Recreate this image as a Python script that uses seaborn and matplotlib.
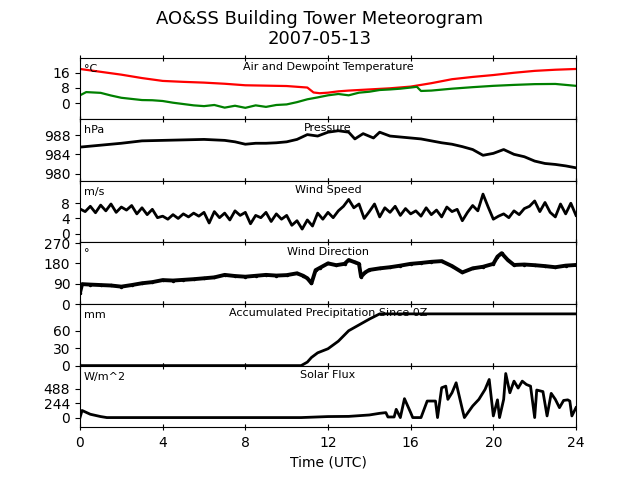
import matplotlib
matplotlib.use("Agg")
import matplotlib.pyplot as plt
import seaborn as sns
import numpy as np

# ---------------- data (hours UTC) ----------------
temp_t = [0, 1, 2, 3, 4, 5, 6, 7, 8, 9, 10, 10.5, 11, 11.3, 11.6, 12, 12.5, 13, 14, 15, 16,
          17, 18, 19, 20, 21, 22, 23, 24]
temp_v = [18, 16.5, 15, 13.2, 11.7, 11.2, 10.8, 10.2, 9.4, 9.2, 9.0, 8.6, 8.2, 5.6, 5.2, 5.5,
          6.2, 6.6, 7.2, 7.8, 8.7, 10.5, 12.6, 13.8, 14.8, 16, 17, 17.6, 18]

dew_t = [0, 0.3, 1, 1.5, 2, 2.5, 3, 3.5, 4, 4.5, 5, 5.5, 6, 6.5, 7, 7.5, 8, 8.5, 9, 9.5, 10,
         10.5, 11, 11.5, 12, 12.5, 13, 13.5, 14, 14.5, 15, 15.5, 16, 16.3, 16.5, 17, 18, 18.5,
         19, 20, 21, 22, 23, 24]
dew_v = [4.1, 5.8, 5.4, 4.0, 2.8, 2.2, 1.6, 1.5, 1.1, 0.2, -0.5, -1.2, -1.6, -1.0, -2.4, -1.4,
         -2.5, -1.2, -2.0, -1.0, -0.7, 0.5, 2.0, 3.0, 4.1, 4.8, 4.1, 5.5, 6.0, 6.9, 7.2, 7.6,
         8.2, 8.6, 6.4, 6.6, 7.6, 8.0, 8.4, 9.1, 9.6, 10.0, 10.1, 9.1]

pres_t = [0, 1, 2, 3, 4, 5, 6, 7, 7.5, 8, 8.5, 9, 9.5, 10, 10.5, 11, 11.5, 12, 12.5, 13, 13.3,
          13.7, 14.2, 14.5, 15, 15.5, 16, 16.5, 17, 17.5, 18, 18.5, 19, 19.5, 20, 20.5, 21,
          21.5, 22, 22.5, 23, 23.5, 24]
pres_v = [985.5, 985.9, 986.3, 986.8, 986.9, 987.0, 987.1, 986.9, 986.6, 986.1, 986.3, 986.3,
          986.4, 986.6, 987.1, 988.1, 987.8, 988.6, 988.9, 988.6, 987.2, 988.3, 987.4, 988.6,
          987.8, 987.6, 987.4, 987.2, 986.8, 986.4, 986.1, 985.6, 985.0, 983.8, 984.2, 985.0,
          984.0, 983.5, 982.6, 982.1, 981.9, 981.6, 981.2]

wspd_t = [i * 0.25 for i in range(97)]
wspd_v = [6.5, 5.8, 7.2, 5.5, 7.5, 6.0, 7.8, 5.6, 7.0,
          6.2, 7.4, 5.2, 6.8, 5.0, 6.4, 4.2, 4.6,
          3.8, 5.0, 4.0, 5.2, 4.4, 5.4, 4.6, 5.6,
          2.8, 5.8, 4.2, 5.4, 3.6, 6.0, 4.8, 5.6,
          2.6, 4.8, 4.2, 5.6, 3.2, 5.2, 3.8, 4.8,
          2.2, 3.4, 1.2, 3.6, 2.0, 5.4, 3.8, 5.6,
          4.2, 6.0, 7.2, 9.0, 6.8, 7.8, 4.0, 5.8,
          7.8, 4.4, 6.8, 5.6, 7.2, 4.8, 6.6, 5.2,
          6.0, 4.6, 6.8, 5.0, 6.2, 4.4, 7.0, 5.8,
          6.4, 3.4, 5.6, 7.4, 6.0, 10.4, 7.0, 3.8,
          4.6, 5.2, 4.2, 6.0, 5.0, 6.6, 7.2, 8.6,
          5.8, 8.2, 5.6, 4.4, 7.8, 5.2, 8.0, 4.8]

wdir_t = [0, 0.1, 0.5, 1, 1.5, 2, 2.5, 3, 3.5, 4, 4.5, 5, 5.5, 6, 6.5, 7, 7.5, 8, 8.5, 9, 9.5,
          10, 10.5, 10.8, 11, 11.2, 11.4, 11.6, 12, 12.4, 12.8, 13, 13.3, 13.5, 13.6, 13.8, 14,
          14.5, 15, 15.5, 16, 16.5, 17, 17.5, 18, 18.5, 19, 19.5, 20, 20.2, 20.4, 20.7, 21,
          21.5, 22, 22.5, 23, 23.5, 24]
wdir_v = [50, 88, 86, 84, 82, 77, 84, 92, 97, 106, 104, 107, 110, 114, 118, 129, 124, 121, 125,
          129, 126, 128, 136, 125, 114, 92, 150, 160, 180, 172, 178, 195, 185, 178, 121, 140,
          151, 158, 163, 170, 178, 182, 187, 190, 168, 140, 158, 165, 178, 210, 225, 195, 173,
          175, 172, 168, 163, 170, 173]

prcp_t = [0, 10.7, 11.0, 11.2, 11.5, 12.0, 12.5, 13.0, 13.5, 14.0, 14.5, 24]
prcp_v = [0, 0, 6, 14, 22, 29, 42, 60, 70, 80, 89, 89]

sol_t = [0, 0.1, 0.5, 1, 1.3, 10.7, 12, 13, 14, 14.5, 14.8, 14.9, 15.2, 15.3, 15.5, 15.7, 16.0,
         16.1, 16.5, 16.8, 17.2, 17.3, 17.5, 17.7, 17.8, 18.0, 18.2, 18.5, 18.6, 19.0, 19.3,
         19.6, 19.8, 20.0, 20.2, 20.3, 20.5, 20.6, 20.8, 21.0, 21.2, 21.4, 21.6, 21.8, 22.0,
         22.1, 22.4, 22.6, 22.8, 23.0, 23.2, 23.4, 23.6, 23.7, 23.8, 24.0]
sol_v = [0, 120, 56, 17, 0, 0, 17, 20, 44, 72, 84, 10, 10, 140, 0, 320, 84, 0, 0, 280, 280, 0,
         505, 532, 308, 420, 589, 140, 0, 196, 308, 477, 645, 28, 300, 0, 308, 746, 420, 617,
         500, 617, 560, 532, 0, 466, 440, 28, 410, 308, 168, 290, 300, 280, 28, 168]

titles = ["Air and Dewpoint Temperature", "Pressure", "Wind Speed", "Wind Direction",
          "Accumulated Precipitation Since 0Z", "Solar Flux"]
units = ["°C", "hPa", "m/s", "°", "mm", "W/m^2"]
yticks = [[0, 8, 16], [980, 984, 988], [0, 4, 8], [0, 90, 180, 270], [0, 30, 60], [0, 244, 488]]
ylims = [(-8.5, 24), (978.5, 991.3), (-2.3, 13.9), (0, 273), (0, 106), (-163, 880)]
xticks = [0, 4, 8, 12, 16, 20, 24]

# ---------------- figure ----------------
fig, axes = plt.subplots(6, 1, sharex=True, figsize=(6.4, 4.8), dpi=100)
fig.subplots_adjust(hspace=0)

sns.lineplot(x=temp_t, y=temp_v, ax=axes[0], color="r", lw=1.6)
sns.lineplot(x=dew_t, y=dew_v, ax=axes[0], color="g", lw=1.6)
sns.lineplot(x=pres_t, y=pres_v, ax=axes[1], color="k", lw=2)
sns.lineplot(x=wspd_t, y=wspd_v, ax=axes[2], color="k", lw=2)
sns.lineplot(x=wdir_t, y=wdir_v, ax=axes[3], color="k", lw=2.8, marker="o", markersize=2.5,
             markeredgewidth=0)
sns.lineplot(x=prcp_t, y=prcp_v, ax=axes[4], color="k", lw=2)
sns.lineplot(x=sol_t, y=sol_v, ax=axes[5], color="k", lw=2)

for ax, ttl, un, yt, yl in zip(axes, titles, units, yticks, ylims):
    ax.set_ylim(*yl)
    ax.set_yticks(yt)
    ax.set_xlim(0, 24)
    ax.set_xticks(xticks)
    ax.tick_params(axis="x", direction="inout", top=True, length=5)
    ax.text(0.5, 0.85, ttl, transform=ax.transAxes, ha="center", va="center", fontsize=8)
    ax.text(0.008, 0.82, un, transform=ax.transAxes, ha="left", va="center", fontsize=8)
    ax.set_ylabel("")

axes[-1].set_xlabel("Time (UTC)")
fig.suptitle("AO&SS Building Tower Meteorogram\n2007-05-13", fontsize=13)

fig.savefig("out.png", dpi=100)
